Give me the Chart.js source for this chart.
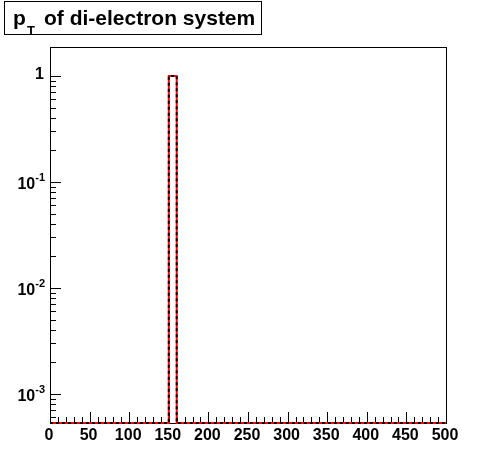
<!DOCTYPE html>
<html>
<head>
<meta charset="utf-8">
<script src="https://cdn.jsdelivr.net/npm/chart.js@4.4.1/dist/chart.umd.min.js"></script>
<style>
html,body{margin:0;padding:0;background:#fff;}
#wrap{position:relative;width:496px;height:472px;}
</style>
</head>
<body>
<div id="wrap"><canvas id="c" width="496" height="472"></canvas></div>
<script>
// ---- data ----
const titleMain = "of di-electron system";
const binEdges = [0,10,20,30,40,50,60,70,80,90,100,110,120,130,140,150,160,170,180,190,200,210,220,230,240,250,260,270,280,290,300,310,320,330,340,350,360,370,380,390,400,410,420,430,440,450,460,470,480,490,500];
const binCounts = [0,0,0,0,0,0,0,0,0,0,0,0,0,0,0,1,0,0,0,0,0,0,0,0,0,0,0,0,0,0,0,0,0,0,0,0,0,0,0,0,0,0,0,0,0,0,0,0,0,0];
const xTickLabels = [0,50,100,150,200,250,300,350,400,450,500];
const yDecades = [-3,-2,-1,0];
const xRange = [0, 500];
const yRange = [5.32e-4, 1.877];

// build step-histogram points (zero bins drawn at the axis minimum, as ROOT does)
const histPoints = binCounts.map((v, i) => ({x: binEdges[i], y: Math.max(v, yRange[0])}));
histPoints.push({x: binEdges[binEdges.length - 1], y: Math.max(binCounts[binCounts.length - 1], yRange[0])});
const fullPoints = [{x: binEdges[0], y: yRange[0]}].concat(histPoints);

const FONT = '"Liberation Sans", Arial, Helvetica, sans-serif';

const rootPlugin = {
  id: 'rootStyle',
  beforeDatasetsDraw(chart) {
    const ctx = chart.ctx, a = chart.chartArea;
    const xs = chart.scales.x, ys = chart.scales.y;
    ctx.save();
    ctx.strokeStyle = '#000';
    ctx.lineWidth = 1;
    // frame
    ctx.strokeRect(Math.round(a.left) + 0.5, Math.round(a.top) + 0.5, Math.round(a.right - a.left), Math.round(a.bottom - a.top));
    // x ticks
    ctx.beginPath();
    for (let v = xRange[0]; v <= xRange[1]; v += 10) {
      const px = Math.round(xs.getPixelForValue(v)) + 0.5;
      const len = (v % 50 === 0) ? 11 : 6;
      ctx.moveTo(px, a.bottom);
      ctx.lineTo(px, a.bottom - len);
    }
    // y ticks
    for (let d = -4; d <= 0; d++) {
      for (let m = 1; m <= 9; m++) {
        const v = m * Math.pow(10, d);
        if (v < yRange[0] || v > yRange[1]) continue;
        const py = Math.round(ys.getPixelForValue(v)) + 0.5;
        const len = (m === 1) ? 11 : 6;
        ctx.moveTo(a.left, py);
        ctx.lineTo(a.left + len, py);
      }
    }
    ctx.stroke();
    // x labels
    ctx.fillStyle = '#000';
    ctx.font = 'bold 16px ' + FONT;
    ctx.textAlign = 'center';
    ctx.textBaseline = 'middle';
    xTickLabels.forEach(v => {
      ctx.fillText(String(v), xs.getPixelForValue(v) - 1, 436);
    });
    // y labels
    ctx.textAlign = 'right';
    yDecades.forEach(d => {
      const py = ys.getPixelForValue(Math.pow(10, d));
      const right = 45;
      if (d === 0) {
        ctx.font = 'bold 16px ' + FONT;
        ctx.textBaseline = 'middle';
        ctx.fillText('1', right - 1, py - 1);
      } else {
        ctx.font = 'bold 11px ' + FONT;
        ctx.textBaseline = 'alphabetic';
        const sup = String(d);
        const sw = ctx.measureText(sup).width;
        ctx.fillText(sup, right, py - 1);
        ctx.font = 'bold 16px ' + FONT;
        ctx.fillText('10', right - sw, py + 7);
      }
    });
    ctx.restore();
  },
  afterDraw(chart) {
    const ctx = chart.ctx;
    ctx.save();
    // title box
    ctx.fillStyle = '#fff';
    ctx.fillRect(4, 1, 258, 34);
    ctx.strokeStyle = '#000';
    ctx.lineWidth = 1;
    ctx.strokeRect(4.5, 1.5, 257, 33);
    ctx.fillStyle = '#000';
    ctx.textAlign = 'left';
    ctx.textBaseline = 'alphabetic';
    ctx.font = 'bold 21px ' + FONT;
    ctx.fillText('p', 13, 25);
    ctx.font = 'bold 13px ' + FONT;
    ctx.fillText('T', 27, 35);
    ctx.font = 'bold 21px ' + FONT;
    ctx.fillText(titleMain, 44, 25);
    ctx.restore();
  }
};

new Chart(document.getElementById('c'), {
  type: 'line',
  data: {
    datasets: [
      {
        data: fullPoints,
        borderColor: '#ff0000',
        borderWidth: 2,
        stepped: true,
        pointRadius: 0,
        fill: false,
        clip: 6,
        order: 2
      },
      {
        data: fullPoints,
        borderColor: '#000000',
        borderWidth: 2,
        borderDash: [3, 3],
        stepped: true,
        pointRadius: 0,
        fill: false,
        clip: 6,
        order: 1
      }
    ]
  },
  options: {
    responsive: false,
    animation: false,
    devicePixelRatio: 1,
    layout: {padding: {left: 50, right: 50, top: 47, bottom: 49}},
    plugins: {legend: {display: false}, title: {display: false}, tooltip: {enabled: false}},
    scales: {
      x: {type: 'linear', min: xRange[0], max: xRange[1], display: false},
      y: {type: 'logarithmic', min: yRange[0], max: yRange[1], display: false}
    }
  },
  plugins: [rootPlugin]
});
</script>
</body>
</html>
